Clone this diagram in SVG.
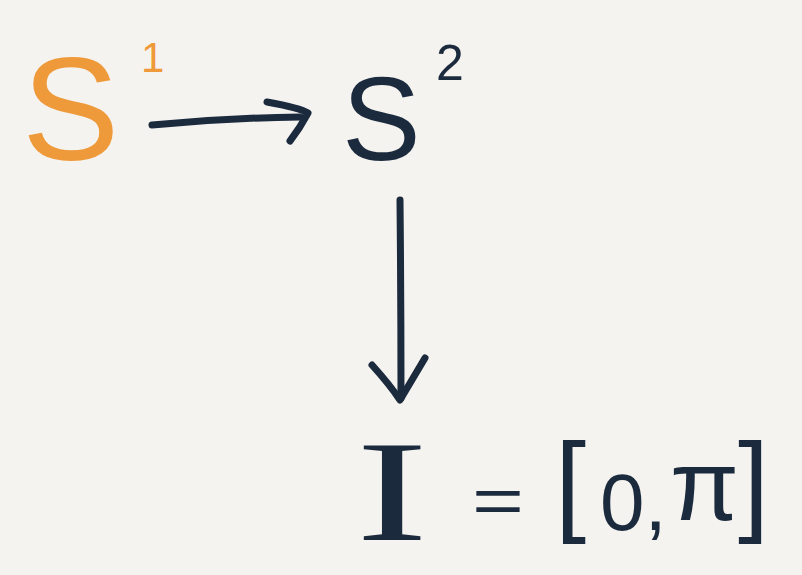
<svg xmlns="http://www.w3.org/2000/svg" width="802" height="575" viewBox="0 0 802 575">
<style>
.ink{fill:#1b2a3d;font-family:"Liberation Sans",Arial,sans-serif}
.orange{fill:#ef9a3a;font-family:"Liberation Sans",Arial,sans-serif}
.serif{fill:#1b2a3d;font-family:"Liberation Serif","Times New Roman",serif}
.stroke{fill:none;stroke:#1b2a3d;stroke-width:7;stroke-linecap:round;stroke-linejoin:round}
</style>
<rect width="802" height="575" fill="#f5f3f0"/>
<g id="s1">
<text class="orange" x="22" y="160" font-size="146">S</text>
<text class="orange" x="141" y="72" font-size="42">1</text>
</g>
<g id="s2">
<text class="ink" x="342" y="160" font-size="118">S</text>
<text class="ink" x="436" y="80" font-size="50">2</text>
</g>
<g id="interval">
<text class="serif" x="392" y="540" font-size="143" text-anchor="middle" textLength="72" lengthAdjust="spacingAndGlyphs">I</text>
<text class="ink" x="472" y="523" font-size="64" textLength="52" lengthAdjust="spacingAndGlyphs">=</text>
<text class="ink" x="555" y="521" font-size="112">[</text>
<text class="ink" x="600" y="530" font-size="80">0,</text>
<text class="ink" x="670" y="520" font-size="100">π</text>
<text class="ink" x="738" y="521" font-size="112">]</text>
</g>
<g id="connectors">
<path class="stroke" d="M152 125 Q225 118 300 117"/>
<path class="stroke" d="M267 102 Q300 108 308 113 Q300 128 290 141"/>
<path class="stroke" d="M400 200 Q401 300 401 398"/>
<path class="stroke" d="M372 365 Q390 385 400 400 Q412 380 425 358"/>
</g>
</svg>
